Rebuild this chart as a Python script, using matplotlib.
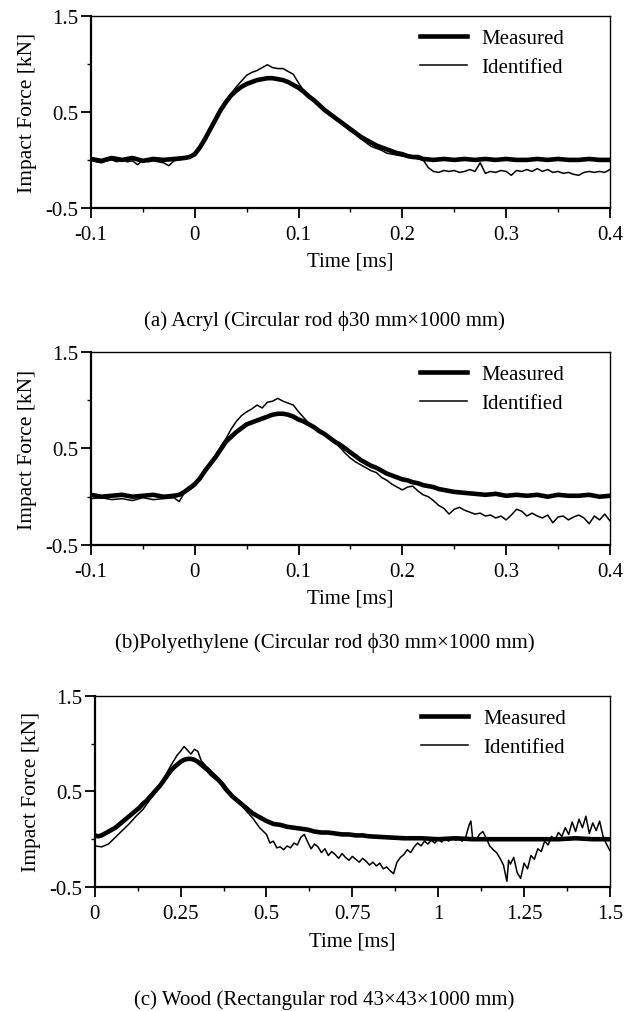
import matplotlib
matplotlib.use("Agg")
import matplotlib.pyplot as plt
from matplotlib.ticker import MultipleLocator

plt.rcParams['font.family'] = ['Liberation Serif', 'DejaVu Serif']
plt.rcParams['axes.unicode_minus'] = False

# ---- (a) Acryl ----
t_a_meas = [-0.1, -0.09, -0.08, -0.07, -0.06, -0.05, -0.04, -0.03, -0.02, -0.01, -0.005,
            0.0, 0.005, 0.01, 0.015, 0.02, 0.025, 0.03, 0.035, 0.04, 0.045, 0.05, 0.055,
            0.06, 0.065, 0.07, 0.075, 0.08, 0.085, 0.09, 0.095, 0.1, 0.105, 0.11, 0.115,
            0.12, 0.125, 0.13, 0.135, 0.14, 0.145, 0.15, 0.155, 0.16, 0.165, 0.17, 0.175,
            0.18, 0.185, 0.19, 0.195, 0.2, 0.205, 0.21, 0.215, 0.22, 0.23, 0.24, 0.25,
            0.26, 0.27, 0.28, 0.29, 0.3, 0.31, 0.32, 0.33, 0.34, 0.35, 0.36, 0.37, 0.38,
            0.39, 0.4]
f_a_meas = [0.01, -0.01, 0.02, 0.0, 0.02, -0.01, 0.01, 0.0, 0.01, 0.02, 0.03,
            0.06, 0.13, 0.22, 0.32, 0.42, 0.52, 0.60, 0.67, 0.72, 0.76, 0.79, 0.81,
            0.83, 0.84, 0.85, 0.85, 0.84, 0.83, 0.81, 0.78, 0.75, 0.71, 0.66, 0.62,
            0.57, 0.52, 0.48, 0.44, 0.40, 0.36, 0.32, 0.28, 0.24, 0.21, 0.18, 0.15,
            0.13, 0.11, 0.09, 0.07, 0.06, 0.04, 0.03, 0.03, 0.01, 0.0, 0.01, 0.0,
            0.01, 0.0, 0.01, 0.0, 0.01, 0.0, 0.0, 0.01, 0.0, 0.01, 0.0, 0.0, 0.01,
            0.0, 0.0]

t_a_iden = [-0.1, -0.095, -0.09, -0.085, -0.08, -0.075, -0.07, -0.065, -0.06, -0.055,
            -0.05, -0.045, -0.04, -0.035, -0.03, -0.025, -0.02, -0.015, -0.01, -0.005,
            0.0, 0.005, 0.01, 0.015, 0.02, 0.025, 0.03, 0.035, 0.04, 0.045, 0.05, 0.055,
            0.06, 0.065, 0.07, 0.075, 0.08, 0.085, 0.09, 0.095, 0.1, 0.105, 0.11, 0.115,
            0.12, 0.125, 0.13, 0.135, 0.14, 0.145, 0.15, 0.155, 0.16, 0.165, 0.17, 0.175,
            0.18, 0.185, 0.19, 0.195, 0.2, 0.205, 0.21, 0.215, 0.22, 0.225, 0.23, 0.235,
            0.24, 0.245, 0.25, 0.255, 0.26, 0.265, 0.27, 0.275, 0.28, 0.285, 0.29, 0.295,
            0.3, 0.305, 0.31, 0.315, 0.32, 0.325, 0.33, 0.335, 0.34, 0.345, 0.35, 0.355,
            0.36, 0.365, 0.37, 0.375, 0.38, 0.385, 0.39, 0.395, 0.4]
f_a_iden = [0.0, -0.02, -0.03, -0.01, 0.0, -0.02, 0.01, -0.02, -0.01, -0.05,
            0.0, -0.02, -0.01, -0.02, -0.03, -0.06, -0.01, 0.0, 0.01, 0.02,
            0.05, 0.11, 0.20, 0.31, 0.42, 0.53, 0.62, 0.69, 0.76, 0.82, 0.88, 0.91,
            0.93, 0.96, 0.99, 0.96, 0.95, 0.95, 0.92, 0.89, 0.80, 0.72, 0.66, 0.61,
            0.56, 0.52, 0.47, 0.43, 0.39, 0.35, 0.30, 0.27, 0.22, 0.18, 0.14, 0.12,
            0.10, 0.07, 0.06, 0.05, 0.04, 0.03, 0.02, 0.01, 0.0, -0.08, -0.12, -0.13,
            -0.11, -0.12, -0.11, -0.13, -0.12, -0.10, -0.12, -0.03, -0.14, -0.12, -0.13, -0.11,
            -0.12, -0.16, -0.11, -0.12, -0.10, -0.12, -0.09, -0.12, -0.10, -0.13, -0.12, -0.14,
            -0.13, -0.15, -0.16, -0.13, -0.12, -0.13, -0.12, -0.13, -0.10]

# ---- (b) Polyethylene ----
t_b_meas = [-0.1, -0.09, -0.08, -0.07, -0.06, -0.05, -0.04, -0.03, -0.02, -0.015, -0.01,
            -0.005, 0.0, 0.005, 0.01, 0.015, 0.02, 0.025, 0.03, 0.035, 0.04, 0.045, 0.05,
            0.055, 0.06, 0.065, 0.07, 0.075, 0.08, 0.085, 0.09, 0.095, 0.1, 0.105, 0.11,
            0.115, 0.12, 0.125, 0.13, 0.135, 0.14, 0.145, 0.15, 0.155, 0.16, 0.165, 0.17,
            0.175, 0.18, 0.185, 0.19, 0.195, 0.2, 0.205, 0.21, 0.215, 0.22, 0.225, 0.23,
            0.235, 0.24, 0.245, 0.25, 0.26, 0.27, 0.28, 0.29, 0.3, 0.31, 0.32, 0.33, 0.34,
            0.35, 0.36, 0.37, 0.38, 0.39, 0.4]
f_b_meas = [0.02, 0.0, 0.01, 0.02, 0.0, 0.01, 0.02, 0.0, 0.01, 0.02, 0.05,
            0.09, 0.13, 0.19, 0.27, 0.34, 0.41, 0.49, 0.57, 0.62, 0.67, 0.71, 0.75,
            0.77, 0.79, 0.81, 0.83, 0.85, 0.86, 0.86, 0.85, 0.83, 0.80, 0.78, 0.75,
            0.72, 0.68, 0.65, 0.61, 0.57, 0.54, 0.50, 0.46, 0.42, 0.38, 0.35, 0.32,
            0.30, 0.27, 0.24, 0.22, 0.20, 0.18, 0.17, 0.15, 0.14, 0.12, 0.11, 0.10,
            0.08, 0.07, 0.06, 0.05, 0.04, 0.03, 0.02, 0.03, 0.01, 0.02, 0.01, 0.02, 0.0,
            0.02, 0.01, 0.01, 0.02, 0.0, 0.01]

t_b_iden = [-0.1, -0.09, -0.08, -0.07, -0.06, -0.05, -0.04, -0.03, -0.02, -0.015,
            -0.01, -0.005, 0.0, 0.005, 0.01, 0.015, 0.02, 0.025, 0.03, 0.035, 0.04, 0.045,
            0.05, 0.055, 0.06, 0.065, 0.07, 0.075, 0.08, 0.085, 0.09, 0.095, 0.1, 0.105,
            0.11, 0.115, 0.12, 0.125, 0.13, 0.135, 0.14, 0.145, 0.15, 0.155, 0.16, 0.165,
            0.17, 0.175, 0.18, 0.185, 0.19, 0.195, 0.2, 0.205, 0.21, 0.215, 0.22, 0.225,
            0.23, 0.235, 0.24, 0.245, 0.25, 0.255, 0.26, 0.265, 0.27, 0.275, 0.28, 0.285,
            0.29, 0.295, 0.3, 0.305, 0.31, 0.315, 0.32, 0.325, 0.33, 0.335, 0.34, 0.345,
            0.35, 0.355, 0.36, 0.365, 0.37, 0.375, 0.38, 0.385, 0.39, 0.395, 0.4]
f_b_iden = [-0.02, -0.01, -0.03, -0.02, -0.04, -0.01, -0.03, -0.02, -0.01, -0.05,
            0.04, 0.07, 0.11, 0.18, 0.26, 0.35, 0.43, 0.52, 0.60, 0.70, 0.78, 0.84,
            0.88, 0.91, 0.95, 0.92, 0.98, 0.99, 1.02, 0.99, 0.97, 0.95, 0.88, 0.82,
            0.76, 0.73, 0.69, 0.64, 0.60, 0.56, 0.51, 0.45, 0.40, 0.36, 0.33, 0.30,
            0.27, 0.25, 0.20, 0.17, 0.13, 0.10, 0.07, 0.10, 0.11, 0.06, 0.02, 0.0,
            -0.04, -0.09, -0.12, -0.18, -0.13, -0.11, -0.14, -0.16, -0.18, -0.17, -0.20, -0.19,
            -0.22, -0.20, -0.24, -0.19, -0.13, -0.15, -0.20, -0.17, -0.20, -0.22, -0.19, -0.27,
            -0.21, -0.20, -0.24, -0.21, -0.19, -0.22, -0.28, -0.20, -0.24, -0.18, -0.25]

# ---- (c) Wood ----
t_c_meas = [0.0, 0.01, 0.02, 0.03, 0.04, 0.05, 0.06, 0.07, 0.08, 0.09, 0.1, 0.11, 0.12,
            0.13, 0.14, 0.15, 0.16, 0.17, 0.18, 0.19, 0.2, 0.21, 0.22, 0.23, 0.24, 0.25,
            0.26, 0.27, 0.28, 0.29, 0.3, 0.31, 0.32, 0.33, 0.34, 0.35, 0.36, 0.37, 0.38,
            0.39, 0.4, 0.41, 0.42, 0.43, 0.44, 0.45, 0.46, 0.47, 0.48, 0.49, 0.5, 0.52,
            0.54, 0.56, 0.58, 0.6, 0.62, 0.64, 0.66, 0.68, 0.7, 0.72, 0.74, 0.76, 0.78,
            0.8, 0.85, 0.9, 0.95, 1.0, 1.05, 1.1, 1.15, 1.2, 1.25, 1.3, 1.35, 1.4, 1.45, 1.5]
f_c_meas = [0.04, 0.03, 0.04, 0.06, 0.08, 0.10, 0.12, 0.15, 0.18, 0.21, 0.24, 0.27, 0.30,
            0.33, 0.37, 0.40, 0.44, 0.48, 0.52, 0.56, 0.61, 0.66, 0.71, 0.75, 0.78, 0.81,
            0.83, 0.84, 0.84, 0.83, 0.81, 0.78, 0.75, 0.72, 0.68, 0.65, 0.62, 0.58, 0.53,
            0.49, 0.45, 0.42, 0.39, 0.36, 0.33, 0.30, 0.27, 0.25, 0.23, 0.21, 0.19, 0.16,
            0.15, 0.13, 0.12, 0.11, 0.10, 0.08, 0.07, 0.07, 0.06, 0.05, 0.05, 0.04, 0.04,
            0.03, 0.02, 0.01, 0.01, 0.0, 0.01, 0.0, 0.0, 0.0, 0.0, 0.0, 0.0, 0.01, 0.0, 0.0]

t_c_iden = [0.0, 0.02, 0.04, 0.06, 0.08, 0.1, 0.12, 0.14, 0.16, 0.18, 0.2, 0.22, 0.24,
            0.25, 0.26, 0.27, 0.28, 0.29, 0.3, 0.31, 0.32, 0.34, 0.36, 0.38, 0.4, 0.42,
            0.44, 0.46, 0.48, 0.5, 0.51, 0.52, 0.53, 0.54, 0.55, 0.56, 0.57, 0.58, 0.59,
            0.6, 0.61, 0.62, 0.63, 0.64, 0.65, 0.66, 0.67, 0.68, 0.69, 0.7, 0.71, 0.72,
            0.73, 0.74, 0.75, 0.76, 0.77, 0.78, 0.79, 0.8, 0.81, 0.82, 0.83, 0.84, 0.85,
            0.86, 0.87, 0.875, 0.88, 0.89, 0.9, 0.91, 0.92, 0.93, 0.94, 0.95, 0.96, 0.97,
            0.98, 0.99, 1.0, 1.01, 1.02, 1.03, 1.04, 1.05, 1.06, 1.07, 1.08, 1.09, 1.095,
            1.1, 1.11, 1.12, 1.13, 1.14, 1.15, 1.16, 1.17, 1.18, 1.19, 1.2, 1.205, 1.21,
            1.22, 1.23, 1.24, 1.25, 1.26, 1.27, 1.28, 1.29, 1.3, 1.31, 1.32, 1.33, 1.34,
            1.35, 1.36, 1.37, 1.38, 1.39, 1.4, 1.41, 1.42, 1.43, 1.44, 1.45, 1.46, 1.47,
            1.48, 1.49, 1.5]
f_c_iden = [-0.07, -0.08, -0.05, 0.02, 0.09, 0.16, 0.24, 0.31, 0.41, 0.50, 0.63, 0.76, 0.88,
            0.92, 0.97, 0.93, 0.89, 0.94, 0.92, 0.82, 0.78, 0.71, 0.64, 0.56, 0.45, 0.38,
            0.30, 0.22, 0.12, 0.05, -0.04, -0.02, -0.09, -0.08, -0.11, -0.07, -0.09, -0.04, -0.06,
            0.02, 0.05, -0.03, -0.10, -0.05, -0.08, -0.14, -0.10, -0.17, -0.13, -0.16, -0.20, -0.15,
            -0.19, -0.22, -0.18, -0.21, -0.24, -0.20, -0.23, -0.27, -0.24, -0.28, -0.25, -0.31, -0.29,
            -0.33, -0.36, -0.30, -0.24, -0.19, -0.16, -0.11, -0.14, -0.08, -0.04, -0.07, -0.02, -0.05,
            -0.01, -0.04, 0.0, -0.03, 0.01, -0.02, 0.02, -0.01, 0.0, -0.02, 0.02, 0.15, 0.19,
            0.02, -0.01, 0.05, 0.08, 0.01, -0.07, -0.11, -0.14, -0.20, -0.27, -0.44, -0.22, -0.26,
            -0.19, -0.35, -0.41, -0.25, -0.31, -0.17, -0.21, -0.10, -0.13, -0.02, -0.06, 0.03, -0.01,
            0.07, 0.03, 0.12, 0.05, 0.18, 0.08, 0.21, 0.12, 0.24, 0.06, 0.17, 0.09, 0.19,
            0.03, -0.05, -0.12]

panels = [
    dict(rect=[0.143, 0.7935, 0.816, 0.190], tm=t_a_meas, fm=f_a_meas, ti=t_a_iden, fi=f_a_iden,
         xlim=(-0.1, 0.4), xmin=0.05,
         xticks=[-0.1, 0.0, 0.1, 0.2, 0.3, 0.4], xlabels=['-0.1', '0', '0.1', '0.2', '0.3', '0.4'],
         caption='(a) Acryl (Circular rod \u03d530 mm\u00d71000 mm)', cap_y=1 - 321 / 1012),
    dict(rect=[0.143, 0.4605, 0.816, 0.1907], tm=t_b_meas, fm=f_b_meas, ti=t_b_iden, fi=f_b_iden,
         xlim=(-0.1, 0.4), xmin=0.05,
         xticks=[-0.1, 0.0, 0.1, 0.2, 0.3, 0.4], xlabels=['-0.1', '0', '0.1', '0.2', '0.3', '0.4'],
         caption='(b)Polyethylene (Circular rod \u03d530 mm\u00d71000 mm)', cap_y=1 - 643 / 1012),
    dict(rect=[0.149, 0.1225, 0.810, 0.189], tm=t_c_meas, fm=f_c_meas, ti=t_c_iden, fi=f_c_iden,
         xlim=(0.0, 1.5), xmin=0.125,
         xticks=[0.0, 0.25, 0.5, 0.75, 1.0, 1.25, 1.5],
         xlabels=['0', '0.25', '0.5', '0.75', '1', '1.25', '1.5'],
         caption='(c) Wood (Rectangular rod 43\u00d743\u00d71000 mm)', cap_y=1 - 1000 / 1012),
]

fs = 15

fig = plt.figure(figsize=(6.36, 10.12), dpi=100)

for p in panels:
    ax = fig.add_axes(p['rect'])
    ax.plot(p['tm'], p['fm'], color='black', lw=3.3, label='Measured')
    ax.plot(p['ti'], p['fi'], color='black', lw=1.1, label='Identified')
    ax.set_xlim(*p['xlim'])
    ax.set_ylim(-0.5, 1.5)
    ax.set_xticks(p['xticks'])
    ax.set_xticklabels(p['xlabels'])
    ax.xaxis.set_minor_locator(MultipleLocator(p['xmin']))
    ax.set_yticks([-0.5, 0.5, 1.5])
    ax.set_yticklabels(['-0.5', '0.5', '1.5'])
    ax.yaxis.set_minor_locator(MultipleLocator(0.5))
    ax.tick_params(which='major', direction='out', length=7, width=1.3, labelsize=fs)
    ax.tick_params(axis='x', which='major', pad=5)
    ax.tick_params(axis='y', which='major', pad=2)
    ax.tick_params(which='minor', direction='out', length=3, width=1.0)
    ax.tick_params(top=False, right=False, which='both')
    ax.spines['left'].set_linewidth(1.6)
    ax.spines['bottom'].set_linewidth(1.6)
    ax.spines['top'].set_linewidth(1.0)
    ax.spines['right'].set_linewidth(1.0)
    ax.set_xlabel('Time [ms]', fontsize=fs, labelpad=6)
    ax.set_ylabel('Impact Force [kN]', fontsize=fs + 0.5, labelpad=6)
    ax.legend(loc='upper left', bbox_to_anchor=(0.618, 0.977), frameon=False, fontsize=fs,
              handlelength=2.25, handletextpad=0.7, labelspacing=0.45, borderaxespad=0.0)
    fig.text(0.51, p['cap_y'], p['caption'], ha='center', va='center', fontsize=fs)

fig.savefig('out.png', dpi=100)
